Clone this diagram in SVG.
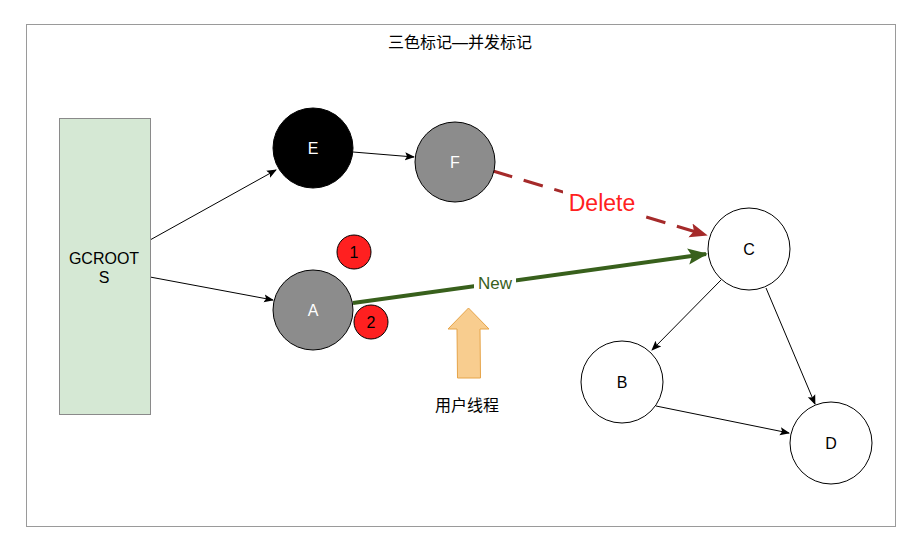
<svg xmlns="http://www.w3.org/2000/svg" width="920" height="554" viewBox="0 0 920 554">
<defs>
<style>
text{font-family:"Liberation Sans",Arial,"Noto Sans CJK SC",sans-serif;text-anchor:middle;dominant-baseline:central}
.edge{fill:none;stroke:#000;stroke-width:1}
.node{stroke:#000;stroke-width:1}
</style>
<marker id="ab" viewBox="0 0 10 10" refX="9" refY="5" markerWidth="10" markerHeight="10" markerUnits="userSpaceOnUse" orient="auto"><path d="M0,1 L10,5 L0,9 L2,5 Z" fill="#000"/></marker>
<marker id="ar" viewBox="0 0 10 10" refX="9" refY="5" markerWidth="6" markerHeight="6" orient="auto"><path d="M0,1 L10,5 L0,9 L2,5 Z" fill="#a52a2a"/></marker>
<marker id="ag" viewBox="0 0 10 10" refX="9" refY="5" markerWidth="6" markerHeight="5" orient="auto"><path d="M0,1 L10,5 L0,9 L2,5 Z" fill="#38601c"/></marker>
</defs>
<rect x="0" y="0" width="920" height="554" fill="#fff"/>
<g id="frame">
<rect x="26.5" y="24.5" width="869" height="502" fill="#fff" stroke="#9a9a9a"/>
<text x="460" y="42" font-size="16">三色标记—并发标记</text>
</g>
<g id="connectors">
<path class="edge" d="M150,240 L276,170" marker-end="url(#ab)"/>
<path class="edge" d="M150,277 L273,300" marker-end="url(#ab)"/>
<path class="edge" d="M353,152 L414,157" marker-end="url(#ab)"/>
<path class="edge" d="M721,280 L652,350" marker-end="url(#ab)"/>
<path class="edge" d="M766,288 L815,404" marker-end="url(#ab)"/>
<path class="edge" d="M656,406 L789,433" marker-end="url(#ab)"/>
<path d="M493,171 L706,235" fill="none" stroke="#a52a2a" stroke-width="3" stroke-dasharray="20,12" marker-end="url(#ar)"/>
<path d="M353,303 L706,254" fill="none" stroke="#38601c" stroke-width="4" marker-end="url(#ag)"/>
<rect x="563" y="189" width="78" height="28" fill="#fff"/>
<text x="602" y="203" font-size="23" fill="#ff2020">Delete</text>
<rect x="474" y="273" width="42" height="20" fill="#fff"/>
<text x="495" y="283" font-size="17" fill="#38601c">New</text>
</g>
<g id="GCROOTS">
<rect x="59.5" y="118.5" width="91" height="296" fill="#d5e8d4" stroke="#8a8a8a"/>
<text x="104" y="258" font-size="16">GCROOT</text>
<text x="104" y="277" font-size="16">S</text>
</g>
<g id="E"><circle class="node" cx="313" cy="148" r="40" fill="#000"/><text x="313" y="148" font-size="16" fill="#fff">E</text></g>
<g id="F"><circle class="node" cx="455" cy="162" r="40" fill="#8c8c8c"/><text x="455" y="162" font-size="16" fill="#fff">F</text></g>
<g id="A"><circle class="node" cx="313" cy="310" r="40" fill="#8c8c8c"/><text x="313" y="310" font-size="16" fill="#fff">A</text></g>
<g id="C"><circle class="node" cx="749" cy="249" r="41" fill="#fff"/><text x="749" y="249" font-size="16">C</text></g>
<g id="B"><circle class="node" cx="622" cy="382" r="41" fill="#fff"/><text x="622" y="382" font-size="16">B</text></g>
<g id="D"><circle class="node" cx="831" cy="443" r="41" fill="#fff"/><text x="831" y="443" font-size="16">D</text></g>
<g id="n1"><circle class="node" cx="354" cy="252" r="17" fill="#ff2020"/><text x="354" y="252" font-size="16">1</text></g>
<g id="n2"><circle class="node" cx="371" cy="322" r="17" fill="#ff2020"/><text x="371" y="322" font-size="16">2</text></g>
<g id="userThread">
<path d="M468.5,308 L489,329 L480,329 L480.5,378 L457.5,378 L457,329 L448,329 Z" fill="#f8cd8f" stroke="#e6a449"/>
<text x="467" y="405" font-size="16">用户线程</text>
</g>
</svg>
